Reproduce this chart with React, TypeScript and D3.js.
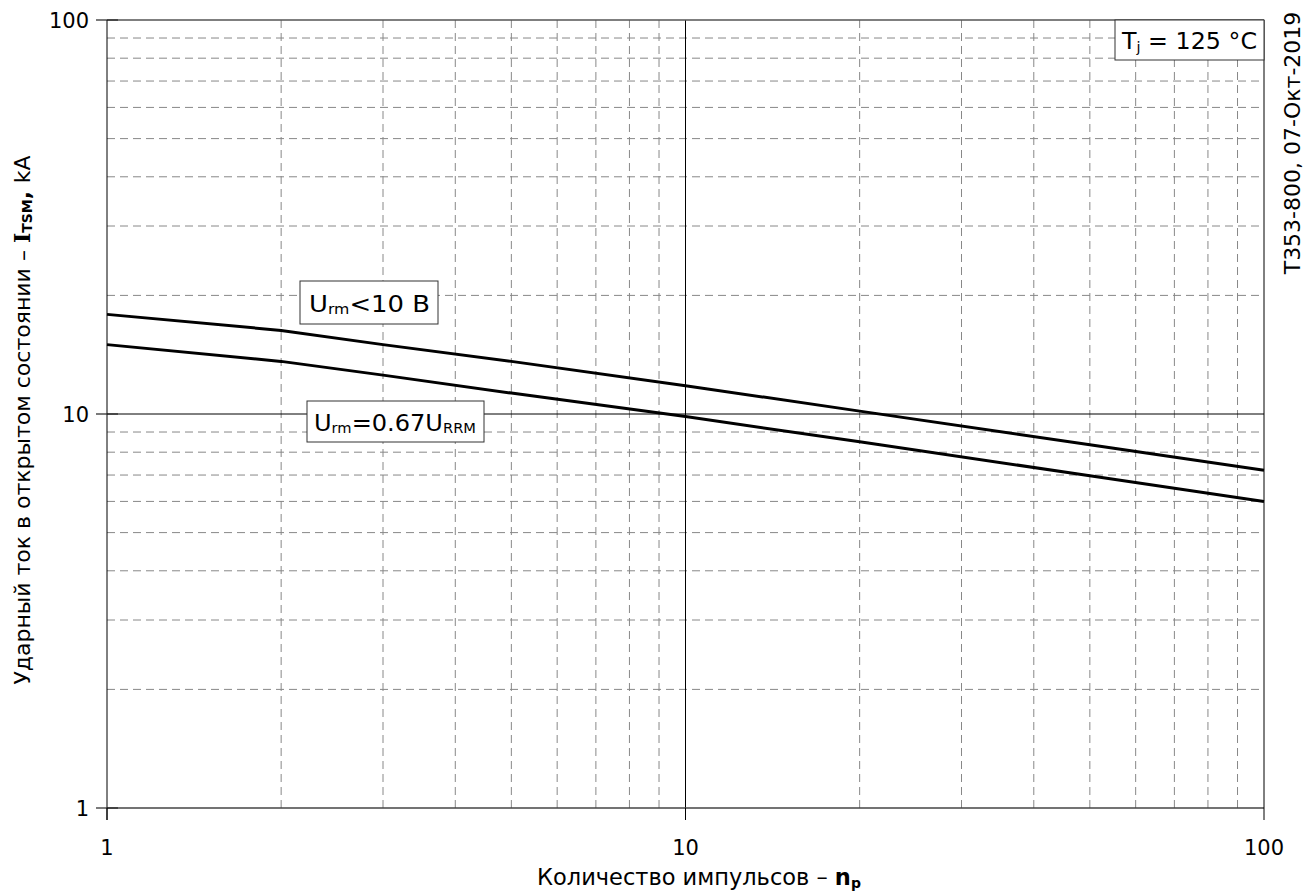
import React, { useEffect, useRef } from "react";
import * as d3 from "d3";

const pulses = [1, 2, 3, 5, 10, 20, 50, 100];
const upperCurve = [17.9, 16.3, 15.0, 13.6, 11.8, 10.17, 8.35, 7.2];
const lowerCurve = [15.0, 13.6, 12.55, 11.3, 9.85, 8.5, 6.97, 6.0];
const xTicks = [1, 10, 100];
const yTicks = [1, 10, 100];

const W = 1311;
const H = 893;
const FONT = "'DejaVu Sans', Verdana, sans-serif";

export default function App() {
  const ref = useRef<SVGSVGElement>(null);
  useEffect(() => {
    const svg = d3.select(ref.current);
    svg.selectAll("*").remove();
    const left = 107, right = 1264, top = 20, bottom = 808;
    const x = d3.scaleLog().domain([1, 100]).range([left, right]);
    const y = d3.scaleLog().domain([1, 100]).range([bottom, top]);

    const minor: number[] = [];
    for (const dec of [1, 10]) for (let k = 2; k <= 9; k++) minor.push(dec * k);

    const g = svg.append("g");
    g.selectAll(".vx").data(minor).enter().append("line")
      .attr("x1", d => x(d)).attr("x2", d => x(d)).attr("y1", top).attr("y2", bottom)
      .attr("stroke", "#888").attr("stroke-width", 1).attr("stroke-dasharray", "8,5");
    g.selectAll(".hy").data(minor).enter().append("line")
      .attr("y1", d => y(d)).attr("y2", d => y(d)).attr("x1", left).attr("x2", right)
      .attr("stroke", "#888").attr("stroke-width", 1).attr("stroke-dasharray", "8,5");
    g.append("line").attr("x1", x(10)).attr("x2", x(10)).attr("y1", top).attr("y2", bottom)
      .attr("stroke", "#000").attr("stroke-width", 1);
    g.append("line").attr("y1", y(10)).attr("y2", y(10)).attr("x1", left).attr("x2", right)
      .attr("stroke", "#000").attr("stroke-width", 1);
    g.append("line").attr("x1", left).attr("x2", right).attr("y1", top).attr("y2", top)
      .attr("stroke", "#555").attr("stroke-width", 1.5);
    g.append("line").attr("x1", left).attr("x2", right).attr("y1", bottom).attr("y2", bottom)
      .attr("stroke", "#444").attr("stroke-width", 1.5);
    g.append("line").attr("x1", right).attr("x2", right).attr("y1", top).attr("y2", bottom)
      .attr("stroke", "#000").attr("stroke-width", 1);
    g.append("line").attr("x1", left).attr("x2", left).attr("y1", top).attr("y2", bottom + 12)
      .attr("stroke", "#000").attr("stroke-width", 1);

    yTicks.forEach(t => {
      g.append("line").attr("x1", left - 11).attr("x2", left + 11).attr("y1", y(t)).attr("y2", y(t))
        .attr("stroke", "#222").attr("stroke-width", 1.2);
      g.append("text").attr("x", left - 18).attr("y", y(t)).attr("dy", "0.36em")
        .attr("text-anchor", "end").attr("font-family", FONT).attr("font-size", 21).text(String(t));
    });
    xTicks.forEach(t => {
      g.append("line").attr("x1", x(t)).attr("x2", x(t)).attr("y1", bottom).attr("y2", bottom + 12)
        .attr("stroke", "#000").attr("stroke-width", 1);
      g.append("text").attr("x", x(t)).attr("y", 855)
        .attr("text-anchor", "middle").attr("font-family", FONT).attr("font-size", 21).text(String(t));
    });

    const line = d3.line<number>().x((_, i) => x(pulses[i])).y(d => y(d));
    [upperCurve, lowerCurve].forEach(c => {
      g.append("path").attr("d", line(c)).attr("fill", "none")
        .attr("stroke", "#000").attr("stroke-width", 3);
    });

    const box = (bx: number, by: number, bw: number, bh: number) =>
      g.append("rect").attr("x", bx).attr("y", by).attr("width", bw).attr("height", bh)
        .attr("fill", "#fff").attr("stroke", "#333").attr("stroke-width", 1);

    box(300, 281, 138, 43);
    const t1 = g.append("text").attr("x", 309).attr("y", 312).attr("font-family", FONT).attr("font-size", 23)
      .attr("textLength", 121).attr("lengthAdjust", "spacingAndGlyphs");
    t1.append("tspan").text("U");
    t1.append("tspan").attr("font-size", 14).attr("dy", 2).text("rm");
    t1.append("tspan").attr("dy", -2).text("<10 В");

    box(307, 401, 177, 41);
    const t2 = g.append("text").attr("x", 314).attr("y", 431).attr("font-family", FONT).attr("font-size", 23)
      .attr("textLength", 162).attr("lengthAdjust", "spacingAndGlyphs");
    t2.append("tspan").text("U");
    t2.append("tspan").attr("font-size", 14).attr("dy", 2).text("rm");
    t2.append("tspan").attr("dy", -2).text("=0.67U");
    t2.append("tspan").attr("font-size", 14).attr("dy", 2).text("RRM");

    box(1115, 20, 149, 40);
    const t3 = g.append("text").attr("x", 1122).attr("y", 49).attr("font-family", FONT).attr("font-size", 23)
      .attr("textLength", 135).attr("lengthAdjust", "spacingAndGlyphs");
    t3.append("tspan").text("T");
    t3.append("tspan").attr("font-size", 14).attr("dy", 3).text("j");
    t3.append("tspan").attr("dy", -3).text(" = 125 °C");

    const xt = g.append("text").attr("x", 699).attr("y", 885).attr("text-anchor", "middle")
      .attr("font-family", FONT).attr("font-size", 22.5);
    xt.append("tspan").text("Количество импульсов  – ");
    xt.append("tspan").attr("font-weight", "bold").text("n");
    xt.append("tspan").attr("font-weight", "bold").attr("font-size", 14).attr("dy", 3).text("p");

    const yt = g.append("text").attr("transform", "translate(30,420) rotate(-90)").attr("text-anchor", "middle")
      .attr("font-family", FONT).attr("font-size", 22);
    yt.append("tspan").text("Ударный ток в открытом состоянии – ");
    yt.append("tspan").attr("font-weight", "bold").attr("font-family", "'DejaVu Serif', serif").text("I");
    yt.append("tspan").attr("font-weight", "bold").attr("font-size", 14).attr("dy", 2).text("TSM");
    yt.append("tspan").attr("dy", -2).attr("font-weight", "bold").text(", ");
    yt.append("tspan").text("kA");

    g.append("text").attr("transform", "translate(1300,143) rotate(-90)").attr("text-anchor", "middle")
      .attr("font-family", FONT).attr("font-size", 22).text("T353-800, 07-Окт-2019");
  }, []);
  return (
    <svg ref={ref} width={W} height={H}
      style={{ position: "absolute", left: 0, top: 0, background: "#fff" }} />
  );
}
